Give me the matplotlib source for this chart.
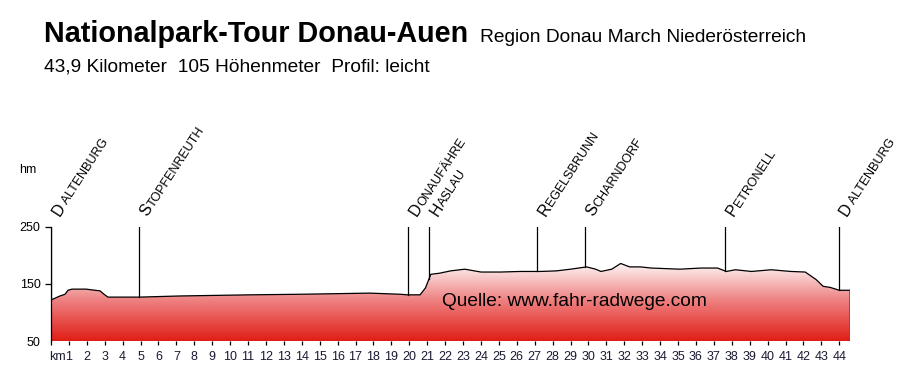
import numpy as np
import matplotlib.pyplot as plt
from matplotlib.colors import LinearSegmentedColormap
from matplotlib.patches import Polygon
from matplotlib.font_manager import FontProperties

plt.rcParams['font.family'] = ['Liberation Sans', 'DejaVu Sans']

# elevation profile, km / hm
km = [0, 0.5, 0.78, 0.95, 1.17, 1.96, 2.46, 2.74, 2.96, 3.18, 4.92, 7.2, 11.1,
      13.9, 17.8, 19.5, 19.9, 20.6, 20.9, 21.2, 21.7, 22.3, 23.1, 24.0, 25.1,
      26.2, 27.3, 28.2, 29.0, 29.9, 30.4, 30.7, 31.3, 31.8, 32.3, 32.9, 33.5,
      35.1, 36.3, 37.2, 37.7, 38.2, 39.1, 40.2, 41.3, 42.1, 42.7, 43.1, 43.5,
      44.0, 44.6]
hm = [122, 129, 132, 139, 141, 141, 139, 138, 132, 127, 127, 129, 131,
      132, 134, 132, 131, 131, 143, 167, 169, 173, 176, 171, 171,
      172, 172, 173, 176, 180, 176, 172, 176, 186, 180, 180, 178,
      176, 178, 178, 172, 175, 172, 175, 172, 171, 158, 146, 144,
      139, 139]

towns = ['D ALTENBURG', 'STOPFENREUTH', 'DONAUFÄHRE', 'HASLAU',
         'REGELSBRUNN', 'SCHARNDORF', 'PETRONELL', 'D ALTENBURG']
town_km = [0, 4.92, 19.95, 21.1, 27.15, 29.8, 37.65, 43.97]

fig = plt.figure(figsize=(9, 3.67), dpi=100)
ax = fig.add_axes([51/900, 26/367, 799/900, 114/367])
ax.set_xlim(0, 44.6)
ax.set_ylim(50, 250)

# gradient fill under the profile
verts = list(zip(km, hm)) + [(km[-1], 50), (km[0], 50)]
patch = Polygon(verts, closed=True, facecolor='none', edgecolor='none')
ax.add_patch(patch)
cmap = LinearSegmentedColormap.from_list('rw', ['#e01e16', '#ee8080', '#ffffff'])
grad = np.linspace(0, 1, 256).reshape(-1, 1)
img = ax.imshow(grad, extent=[0, 44.6, 50, 192], origin='lower',
                aspect='auto', cmap=cmap, zorder=1)
img.set_clip_path(patch)
ax.plot(km, hm, color='black', lw=0.9, zorder=3)
ax.plot([km[-1], km[-1]], [50, hm[-1]], color='#008080', lw=1.2, zorder=3)

# towns, small caps look: bigger first letter
renderer = fig.canvas.get_renderer()
ang = 57
big, small = 11.5, 9
ca, sa = np.cos(np.radians(ang)), np.sin(np.radians(ang))
x0, y0 = 6, 7.5
for name, k in zip(towns, town_km):
    top = np.interp(k, km, hm)
    ax.plot([k, k], [250, top], color='black', lw=0.9, zorder=3)
    ax.annotate(name[0], xy=(k, 250), xytext=(x0, y0),
                textcoords='offset points', rotation=ang,
                rotation_mode='anchor', ha='left', va='baseline',
                fontsize=big, annotation_clip=False)
    w = renderer.get_text_width_height_descent(
        name[0], FontProperties(family='Liberation Sans', size=big), False)[0]
    w = w * 72 / fig.dpi
    ax.annotate(name[1:], xy=(k, 250), xytext=(x0 + w * ca, y0 + w * sa),
                textcoords='offset points', rotation=ang,
                rotation_mode='anchor', ha='left', va='baseline',
                fontsize=small, annotation_clip=False)

ax.text(21.8, 112, 'Quelle: www.fahr-radwege.com', fontsize=13.8,
        va='baseline', zorder=4)

# axes
for s in ['top', 'right', 'bottom']:
    ax.spines[s].set_visible(False)
ax.spines['left'].set_linewidth(0.9)
ax.set_xticks(range(0, 45))
ax.set_xticklabels([''] + [str(i) for i in range(1, 45)])
ax.tick_params(axis='x', length=3, width=0.9, pad=4, labelsize=9,
               labelcolor='#1a1a33')
ax.annotate('km', xy=(0.8, 50), xytext=(0, -7),
            textcoords='offset points', ha='right', va='top',
            fontsize=9, color='#1a1a33', annotation_clip=False)
ax.set_yticks([50, 150, 250])
ax.tick_params(axis='y', length=4.5, width=0.9, pad=3, labelsize=9)
ax.yaxis.get_major_ticks()[0].tick1line.set_visible(False)
ax.text(-0.84, 350, 'hm', fontsize=9, ha='right', va='center')

fig.text(44/900, 1 - 42/367, 'Nationalpark-Tour Donau-Auen', fontsize=20.7,
         fontweight='bold', va='baseline')
fig.text(480/900, 1 - 42/367, 'Region Donau March Niederösterreich',
         fontsize=13.8, va='baseline')
fig.text(44/900, 1 - 71/367, '43,9 Kilometer  105 Höhenmeter  Profil: leicht',
         fontsize=13.8, va='baseline')

fig.savefig('out.png', dpi=100)
